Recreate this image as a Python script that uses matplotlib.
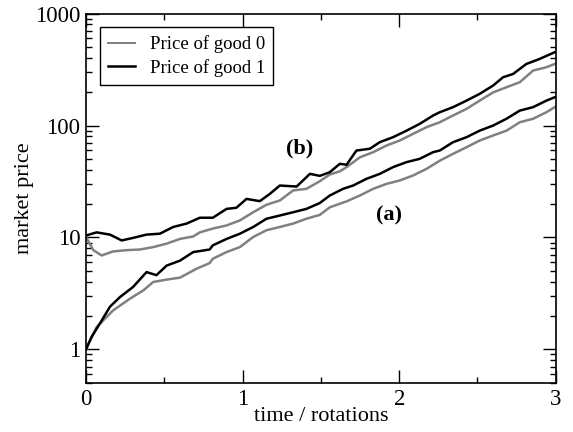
import matplotlib
matplotlib.use("Agg")
import matplotlib.pyplot as plt
from matplotlib.lines import Line2D
from matplotlib.ticker import LogLocator, FixedLocator, NullFormatter, FixedFormatter

# --- data (time in rotations, price) ---
t_b1 = [0.0, 0.068, 0.153, 0.228, 0.30, 0.387, 0.472, 0.557, 0.643, 0.727, 0.81, 0.898, 0.96,
        1.025, 1.11, 1.174, 1.238, 1.345, 1.43, 1.493, 1.557, 1.621, 1.664, 1.727, 1.812, 1.876,
        1.961, 2.047, 2.131, 2.216, 2.259, 2.344, 2.43, 2.514, 2.60, 2.663, 2.727, 2.812, 2.897, 2.993]
p_b1 = [10.4, 11.1, 10.6, 9.4, 9.9, 10.6, 10.8, 12.4, 13.3, 15.0, 15.0, 18.0, 18.4,
        22.1, 21.1, 24.5, 29.1, 28.5, 37.0, 35.5, 38.3, 45.5, 44.6, 59.8, 62.0, 71.0,
        78.7, 90.0, 103.5, 122.8, 131.5, 146.0, 167.0, 192.0, 228.0, 270.0, 289.0, 355.0, 394.0, 452.0]

t_b0 = [0.0, 0.047, 0.10, 0.174, 0.26, 0.345, 0.43, 0.515, 0.60, 0.685, 0.727, 0.81, 0.898,
        0.983, 1.068, 1.153, 1.238, 1.323, 1.408, 1.493, 1.557, 1.621, 1.664, 1.749, 1.834,
        1.919, 2.004, 2.089, 2.174, 2.259, 2.344, 2.43, 2.514, 2.60, 2.685, 2.77, 2.855, 2.94, 2.993]
p_b0 = [10.1, 7.7, 6.9, 7.5, 7.7, 7.8, 8.2, 8.8, 9.7, 10.2, 11.1, 12.0, 12.8,
        14.2, 16.8, 19.6, 21.4, 26.3, 27.2, 31.8, 36.5, 39.0, 42.5, 52.0, 57.8,
        66.3, 73.5, 84.3, 96.6, 107.0, 123.0, 141.0, 167.0, 198.0, 220.0, 244.0, 310.0, 332.0, 355.0]

t_a1 = [0.0, 0.036, 0.089, 0.153, 0.217, 0.30, 0.387, 0.45, 0.515, 0.60, 0.685, 0.79, 0.81,
        0.898, 0.983, 1.068, 1.153, 1.238, 1.323, 1.408, 1.493, 1.557, 1.642, 1.706, 1.791,
        1.876, 1.961, 2.047, 2.131, 2.216, 2.259, 2.344, 2.43, 2.514, 2.60, 2.685, 2.77,
        2.855, 2.94, 2.993]
p_a1 = [1.0, 1.29, 1.7, 2.4, 2.93, 3.6, 4.9, 4.6, 5.6, 6.2, 7.4, 7.8, 8.5,
        9.7, 10.8, 12.4, 14.7, 15.7, 16.8, 18.0, 20.3, 23.7, 27.2, 29.1, 33.4,
        37.0, 42.5, 47.1, 50.4, 57.8, 59.8, 71.0, 78.7, 90.0, 100.0, 115.0, 136.0,
        146.0, 167.0, 179.0]

t_a0 = [0.0, 0.068, 0.174, 0.28, 0.366, 0.43, 0.515, 0.60, 0.706, 0.79, 0.81, 0.898, 0.983,
        1.068, 1.153, 1.238, 1.323, 1.408, 1.493, 1.557, 1.664, 1.749, 1.834, 1.919, 2.004,
        2.089, 2.174, 2.259, 2.344, 2.43, 2.514, 2.60, 2.685, 2.77, 2.855, 2.94, 2.993]
p_a0 = [1.0, 1.58, 2.23, 2.83, 3.36, 4.0, 4.2, 4.37, 5.25, 5.9, 6.45, 7.4, 8.2,
        10.1, 11.6, 12.4, 13.3, 14.7, 15.9, 18.6, 21.0, 23.7, 27.2, 30.1, 32.3,
        35.8, 41.0, 48.5, 55.9, 64.0, 73.5, 81.5, 90.0, 107.0, 115.0, 131.5, 146.0]

x_major = [0, 1, 2, 3]
x_minor = [0.5, 1.5, 2.5]
y_major = [1, 10, 100, 1000]
y_major_labels = ["1", "10", "100", "1000"]

legend_labels = ["Price of good 0", "Price of good 1"]
gray = "#808080"

plt.rcParams["font.family"] = ["Liberation Serif", "DejaVu Serif"]

fig = plt.figure(figsize=(5.73, 4.32), dpi=100)
ax = fig.add_axes([0.150, 0.1134, 0.820, 0.855])

ax.plot(t_b0, p_b0, color=gray, lw=1.8)
ax.plot(t_a0, p_a0, color=gray, lw=1.8)
ax.plot(t_b1, p_b1, color="black", lw=1.8)
ax.plot(t_a1, p_a1, color="black", lw=1.8)

ax.set_yscale("log")
ax.set_xlim(0, 3)
ax.set_ylim(0.5, 1000)

ax.xaxis.set_major_locator(FixedLocator(x_major))
ax.xaxis.set_minor_locator(FixedLocator(x_minor))
ax.yaxis.set_major_locator(FixedLocator(y_major))
ax.yaxis.set_major_formatter(FixedFormatter(y_major_labels))
ax.yaxis.set_minor_locator(LogLocator(base=10, subs=range(2, 10)))
ax.yaxis.set_minor_formatter(NullFormatter())

ax.tick_params(which="both", direction="in", top=True, right=True, labelsize=16.5, width=1.0)
ax.tick_params(which="major", length=9.5, pad=4)
ax.tick_params(which="minor", length=4.5)
for s in ax.spines.values():
    s.set_linewidth(1.2)

ax.set_xlabel("time / rotations", fontsize=16, labelpad=-2)
ax.set_ylabel("market price", fontsize=16, labelpad=1)

ax.text(1.366, 62, "(b)", fontsize=16, fontweight="bold", ha="center", va="center")
ax.text(1.934, 15.7, "(a)", fontsize=16, fontweight="bold", ha="center", va="center")

h0 = Line2D([], [], color=gray, lw=1.4)
h1 = Line2D([], [], color="black", lw=1.8)
leg = ax.legend([h0, h1], legend_labels, loc="upper left", bbox_to_anchor=(0.030, 0.964),
                fontsize=13.5, frameon=True, fancybox=False, framealpha=1,
                edgecolor="black", handlelength=1.4, borderpad=0.45, labelspacing=0.3,
                handletextpad=0.8, borderaxespad=0)
leg.get_frame().set_linewidth(1.0)

fig.savefig("out.png", dpi=100)
